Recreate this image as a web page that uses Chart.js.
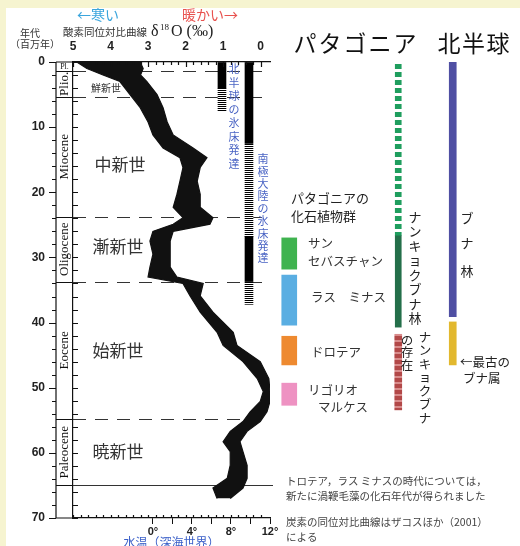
<!DOCTYPE html>
<html lang="ja">
<head>
<meta charset="UTF-8" />
<title>酸素同位対比曲線とパタゴニアの化石植物群</title>
<script src="https://cdn.jsdelivr.net/npm/chart.js"></script>
<style>
  body { margin: 0; background: #f6f4d0; }
  #wrap { position: relative; width: 520px; height: 546px; overflow: hidden; }
  #paper { position: absolute; left: 6px; top: 8px; right: 0; bottom: 0; background: #fff; }
  #left { position: absolute; left: 0; top: 0; }
  #right { position: absolute; left: 250px; top: 0; }
</style>
</head>
<body>
<div id="wrap">
  <div id="paper"></div>
  <canvas id="left" width="285" height="546"></canvas>
  <canvas id="right" width="270" height="546"></canvas>
</div>
<script>
// 年代（百万年前）と δ18O の帯の両端
const ages      = [0, 1, 2, 3, 5, 7, 9.2, 11.2, 13.2, 14.7, 16.2, 18.3, 20.3, 22.3, 23.9, 24.9, 26, 27.5, 29.5, 31.5, 33, 34, 35.9, 38.4, 41.5, 43.5, 46, 48.6, 50.6, 52.1, 53.7, 55.2, 56.7, 58.3, 59.8, 61.9, 63.9, 65.4, 67];
const d18oCold  = [4.9, 4.63, 4.2, 3.75, 3.48, 3.21, 3.0, 2.87, 2.6, 2.15, 2.07, 2.15, 2.23, 2.33, 2.07, 2.33, 2.87, 2.95, 2.87, 2.95, 3.0, 2.07, 1.88, 1.61, 1.16, 1.0, 0.47, 0.09, -0.07, 0.01, 0.28, 0.47, 0.81, 1.0, 0.81, 0.81, 0.89, 1.27, 1.16];
const d18oWarm  = [3.21, 3.13, 3.2, 3.03, 2.76, 2.6, 2.49, 2.33, 1.8, 1.43, 1.61, 1.69, 1.61, 1.61, 1.27, 1.35, 2.33, 2.41, 2.41, 2.41, 2.23, 1.53, 1.61, 1.27, 0.73, 0.63, 0.01, -0.22, -0.25, -0.25, -0.17, 0.01, 0.36, 0.55, 0.47, 0.36, 0.36, 0.47, 0.81];

const d18oTicks = [5, 4, 3, 2, 1, 0];
const ageTicks = [0, 10, 20, 30, 40, 50, 60, 70];
const tempTicks = [0, 2, 4, 6, 8, 10, 12];

// 地質時代の境界
const epochBounds = [1.4, 5.3, 23.8, 33.7, 54.8];
const kpgBound = 65;
const epochNames = ['Pl.', 'Plio.', 'Miocene', 'Oligocene', 'Eocene', 'Paleocene'];
const epochEdges = [0, 1.4, 5.3, 23.8, 33.7, 54.8, 65];

// 氷床（年代の範囲）
const iceNHFull = [[0, 4]];
const iceNHPartial = [[4, 7.5]];
const iceAntFull = [[0, 12.5], [26.8, 33.7]];
const iceAntPartial = [[12.5, 26.8], [33.7, 37.2]];

// 右側: パタゴニアと北半球
const columns = ['化石植物群', '', 'ナンキョクブナ', '北半球'];
const floraRanges = [[27.0, 31.8], [32.7, 40.4], [42.1, 46.5], [49.3, 52.7]];
const nothoForestDashed = [0, 26.6];
const nothoForest = [26.6, 40.7];
const nothoPresence = [41.8, 53.4];
const fagusForest = [0, 39.1];
const fagusOldest = [39.9, 46.5];
const fagusOldestGreen = [42.2, 45.3];

const JP = "'Noto Sans CJK JP', sans-serif";
const SERIF = "'Liberation Serif', 'DejaVu Serif', serif";
Chart.defaults.font.family = "'Liberation Sans', 'Noto Sans CJK JP', sans-serif";
Chart.defaults.color = '#222';

function stripes(a, b, na, nb) {
    const c = document.createElement('canvas');
    c.width = 1; c.height = na + nb;
    const g = c.getContext('2d');
    g.fillStyle = a; g.fillRect(0, 0, 1, na);
    g.fillStyle = b; g.fillRect(0, na, 1, nb);
    return g.createPattern(c, 'repeat');
}

function vtext(ctx, str, x, y0, step) {
    [...str].forEach((ch, i) => ctx.fillText(ch, x, y0 + i * step));
}

function txt(ctx, s, x, y, font, color, align) {
    ctx.font = font;
    ctx.fillStyle = color || '#222';
    ctx.textAlign = align || 'left';
    ctx.textBaseline = 'middle';
    ctx.fillText(s, x, y);
}

// 軸の大きさを固定して、描画範囲を元の図に合わせる
function fixSize(w, h) {
    return s => {
        if (w !== null) s.width = w;
        if (h !== null) s.height = h;
        s.paddingLeft = 0; s.paddingRight = 0; s.paddingTop = 0; s.paddingBottom = 0;
    };
}

// ---- 左: 酸素同位体比曲線 ----
const NH_X = 1.03, ANT_X = 0.31;
const hatch = stripes('#000', '#fff', 1, 1);

const leftDecor = {
    id: 'leftDecor',
    beforeDatasetsDraw(chart) {
        const { ctx, chartArea: a, scales: { y } } = chart;
        ctx.save();
        ctx.strokeStyle = '#333';
        ctx.lineWidth = 1;
        ctx.setLineDash([13, 9]);
        epochBounds.forEach(t => {
            const py = Math.round(y.getPixelForValue(t)) + 0.5;
            ctx.beginPath(); ctx.moveTo(a.left, py); ctx.lineTo(a.right - 4, py); ctx.stroke();
        });
        ctx.setLineDash([]);
        const pk = Math.round(y.getPixelForValue(kpgBound)) + 0.5;
        ctx.beginPath(); ctx.moveTo(56, pk); ctx.lineTo(a.right + 3, pk); ctx.stroke();
        ctx.restore();
    },
    afterDraw(chart) {
        const { ctx, chartArea: a, scales: { x, y } } = chart;
        ctx.save();
        ctx.strokeStyle = '#111';
        ctx.lineWidth = 1.2;
        // 地質時代の欄
        ctx.beginPath();
        ctx.moveTo(56, a.top); ctx.lineTo(56, a.bottom);
        ctx.moveTo(56, a.top); ctx.lineTo(a.left, a.top);
        ctx.moveTo(56, a.bottom); ctx.lineTo(a.left, a.bottom);
        epochEdges.slice(1).forEach(t => {
            const py = Math.round(y.getPixelForValue(t)) + 0.5;
            ctx.moveTo(56, py); ctx.lineTo(a.left, py);
        });
        for (let t = 0; t <= 70; t += 2) {
            const py = Math.round(y.getPixelForValue(t)) + 0.5;
            ctx.moveTo(56, py); ctx.lineTo(t % 10 === 0 ? 49 : 52, py);
            ctx.moveTo(a.left, py); ctx.lineTo(a.left + 5, py);
        }
        // 上下の内向き目盛
        for (let d = 0; d <= 25; d++) {
            const v = 5 - d * 0.2;
            const px = Math.round(x.getPixelForValue(v)) + 0.5;
            const len = d % 5 === 0 ? 5 : 3;
            ctx.moveTo(px, a.top); ctx.lineTo(px, a.top + len);
            ctx.moveTo(px, a.bottom); ctx.lineTo(px, a.bottom - 3);
        }
        ctx.stroke();

        // 時代名（英語）
        ctx.fillStyle = '#111';
        ctx.textBaseline = 'middle';
        ctx.textAlign = 'center';
        epochNames.forEach((n, i) => {
            const cy = (y.getPixelForValue(epochEdges[i]) + y.getPixelForValue(epochEdges[i + 1])) / 2;
            if (i === 0) {
                ctx.font = '8px ' + SERIF;
                ctx.fillText(n, 64.5, cy);
                return;
            }
            ctx.save();
            ctx.translate(65, cy);
            ctx.rotate(-Math.PI / 2);
            ctx.font = '13px ' + SERIF;
            ctx.fillText(n, 0, 0);
            ctx.restore();
        });

        // 時代名（日本語）
        txt(ctx, '鮮新世', 106, 88, '10px ' + JP, '#333', 'center');
        txt(ctx, '中新世', 120, 165, '17px ' + JP, '#333', 'center');
        txt(ctx, '漸新世', 118, 247, '17px ' + JP, '#333', 'center');
        txt(ctx, '始新世', 118, 351, '17px ' + JP, '#333', 'center');
        txt(ctx, '暁新世', 118, 452, '17px ' + JP, '#333', 'center');

        // 見出し
        txt(ctx, '年代', 30, 33, '10px ' + JP, '#333', 'center');
        txt(ctx, '（百万年）', 35, 44, '10px ' + JP, '#333', 'center');
        txt(ctx, '←寒い', 98, 15, '14px ' + JP, '#3aa5dd', 'center');
        txt(ctx, '暖かい→', 210, 15, '14px ' + JP, '#e8524f', 'center');
        txt(ctx, '酸素同位対比曲線', 63, 32, '10.5px ' + JP, '#333');
        txt(ctx, 'δ', 151, 32, '16px ' + SERIF, '#222');
        txt(ctx, '18', 160, 28, '9px ' + SERIF, '#222');
        txt(ctx, 'O (‰)', 171, 32, '16px ' + SERIF, '#222');

        // 氷床の説明（縦書き）
        ctx.font = '11px ' + JP;
        ctx.fillStyle = '#4a64c4';
        ctx.textAlign = 'center';
        vtext(ctx, '北半球の氷床発達', 234, 69, 13.5);
        vtext(ctx, '南極大陸の氷床発達', 263, 159, 12.4);
        ctx.restore();
    }
};

const iceBar = (ranges, xv, color) => ({
    type: 'bar',
    indexAxis: 'x',
    xAxisID: 'x',
    yAxisID: 'y',
    data: ranges.map(r => ({ x: xv, y: r })),
    backgroundColor: color,
    borderWidth: 0,
    barThickness: 8,
    maxBarThickness: 8,
    grouped: false
});

new Chart(document.getElementById('left'), {
    type: 'line',
    data: {
        datasets: [
            {
                label: 'δ18O 寒い側',
                indexAxis: 'y',
                xAxisID: 'x',
                yAxisID: 'y',
                data: ages.map((t, i) => ({ x: d18oCold[i], y: t })),
                borderColor: '#111',
                borderWidth: 1.2,
                backgroundColor: '#111',
                pointRadius: 0,
                tension: 0,
                fill: '+1'
            },
            {
                label: 'δ18O 暖かい側',
                indexAxis: 'y',
                xAxisID: 'x',
                yAxisID: 'y',
                data: ages.map((t, i) => ({ x: d18oWarm[i], y: t })),
                borderColor: '#111',
                borderWidth: 1.2,
                pointRadius: 0,
                tension: 0,
                fill: false
            },
            iceBar(iceNHFull, NH_X, '#000'),
            iceBar(iceNHPartial, NH_X, hatch),
            iceBar(iceAntFull, ANT_X, '#000'),
            iceBar(iceAntPartial, ANT_X, hatch)
        ]
    },
    options: {
        responsive: false,
        animation: false,
        layout: { padding: { left: 0, right: 15, top: 0, bottom: 0 } },
        plugins: { legend: { display: false }, tooltip: { enabled: false } },
        scales: {
            x: {
                type: 'linear', position: 'top', reverse: true, min: -0.25, max: 5,
                offset: false,
                afterBuildTicks: s => { s.ticks = d18oTicks.map(v => ({ value: v })); },
                afterFit: fixSize(null, 62),
                border: { color: '#111', width: 1.2 },
                grid: { drawOnChartArea: false, drawTicks: false, offset: false },
                ticks: { padding: 8, font: { size: 12, weight: 'bold' }, color: '#222' }
            },
            y: {
                type: 'linear', position: 'left', reverse: true, min: 0, max: 70,
                afterBuildTicks: s => { s.ticks = ageTicks.map(v => ({ value: v })); },
                afterFit: fixSize(73, null),
                border: { color: '#111', width: 1.2 },
                grid: { drawOnChartArea: false, drawTicks: false },
                ticks: { padding: 28, font: { size: 12, weight: 'bold' }, color: '#222' }
            },
            xt: {
                type: 'linear', position: 'bottom', min: -8.205, max: 12,
                afterBuildTicks: s => { s.ticks = tempTicks.map(v => ({ value: v })); },
                afterFit: fixSize(null, 28),
                border: { color: '#111', width: 1.2 },
                grid: { drawOnChartArea: false, tickLength: 6, color: '#111' },
                ticks: {
                    padding: 1, font: { size: 11, weight: 'bold' }, color: '#222',
                    callback: v => v % 4 === 0 ? v + '°' : ''
                },
                title: {
                    display: true, text: '水温（深海世界）', color: '#3a5fc8',
                    font: { size: 12, family: JP }, padding: { top: 0, bottom: -4 }
                }
            }
        }
    },
    plugins: [leftDecor]
});

// ---- 右: パタゴニアと北半球の植物 ----
const OX = 250;
const dashGreen = stripes('#1f9e5e', '#fff', 5, 3);
const redPattern = stripes('#b24848', '#d88c8c', 4, 2);

const rightDecor = {
    id: 'rightDecor',
    afterDraw(chart) {
        const { ctx } = chart;
        ctx.save();
        ctx.translate(-OX, 0);
        ctx.font = '23px ' + JP;
        ctx.fillStyle = '#111';
        ctx.textAlign = 'center';
        ctx.textBaseline = 'middle';
        [...'パタゴニア'].forEach((ch, i) => ctx.fillText(ch, 305 + i * 25, 43));
        [...'北半球'].forEach((ch, i) => ctx.fillText(ch, 449 + i * 24.5, 43));

        const f = '12.5px ' + JP;
        txt(ctx, 'パタゴニアの', 291, 198, '13px ' + JP, '#222');
        txt(ctx, '化石植物群', 291, 216, '13px ' + JP, '#222');
        txt(ctx, 'サン', 308, 243, f, '#333');
        txt(ctx, 'セバスチャン', 308, 261, f, '#333');
        txt(ctx, 'ラス　ミナス', 311, 297, f, '#333');
        txt(ctx, 'ドロテア', 311, 352, f, '#333');
        txt(ctx, 'リゴリオ', 308, 390, f, '#333');
        txt(ctx, 'マルケス', 318, 407, f, '#333');

        ctx.font = '13px ' + JP;
        ctx.fillStyle = '#222';
        ctx.textAlign = 'center';
        vtext(ctx, 'ナンキョクブナ林', 415, 217, 14.5);
        ctx.font = '12.5px ' + JP;
        vtext(ctx, 'ナンキョクブナ', 425, 337, 13.5);
        vtext(ctx, 'の存在', 407, 340, 12.5);
        ctx.font = '13px ' + JP;
        ctx.fillText('ブ', 467, 218);
        ctx.fillText('ナ', 467, 243);
        ctx.fillText('林', 467, 271);
        txt(ctx, '←最古の', 460, 362, f, '#222');
        txt(ctx, 'ブナ属', 463, 378, f, '#222');

        const fn = '10.5px ' + JP;
        txt(ctx, 'トロテア，ラス ミナスの時代については，', 286, 481, fn, '#444');
        txt(ctx, '新たに渦鞭毛藻の化石年代が得られました', 286, 496, fn, '#444');
        txt(ctx, '炭素の同位対比曲線はザコスほか（2001）', 286, 522, fn, '#444');
        txt(ctx, 'による', 286, 537, fn, '#444');
        ctx.restore();
    }
};

const colBar = (col, ranges, color, w, label) => ({
    label,
    data: ranges.map(r => ({ x: col, y: r })),
    backgroundColor: color,
    borderWidth: 0,
    barThickness: w,
    grouped: false
});

new Chart(document.getElementById('right'), {
    type: 'bar',
    data: {
        labels: columns,
        datasets: [
            colBar(columns[0], floraRanges, ['#3fb34f', '#5aaee2', '#ee8a30', '#ee92c2'], 15, '化石植物群'),
            colBar(columns[2], [nothoForestDashed], dashGreen, 6, 'ナンキョクブナ林（推定）'),
            colBar(columns[2], [nothoForest], '#246f4a', 6, 'ナンキョクブナ林'),
            colBar(columns[2], [nothoPresence], redPattern, 7, 'ナンキョクブナの存在'),
            colBar(columns[3], [fagusForest], '#4f4fa3', 7, 'ブナ林'),
            colBar(columns[3], [fagusOldest], '#e2b82e', 7, '最古のブナ属'),
            colBar(columns[3], [fagusOldestGreen], '#3fb34f', 5, '最古のブナ属')
        ]
    },
    options: {
        responsive: false,
        animation: false,
        layout: { padding: { left: 12, right: 40, top: 62, bottom: 28 } },
        plugins: { legend: { display: false }, tooltip: { enabled: false } },
        scales: {
            x: { type: 'category', display: false },
            y: { type: 'linear', reverse: true, min: 0, max: 70, display: false }
        }
    },
    plugins: [rightDecor]
});
</script>
</body>
</html>
